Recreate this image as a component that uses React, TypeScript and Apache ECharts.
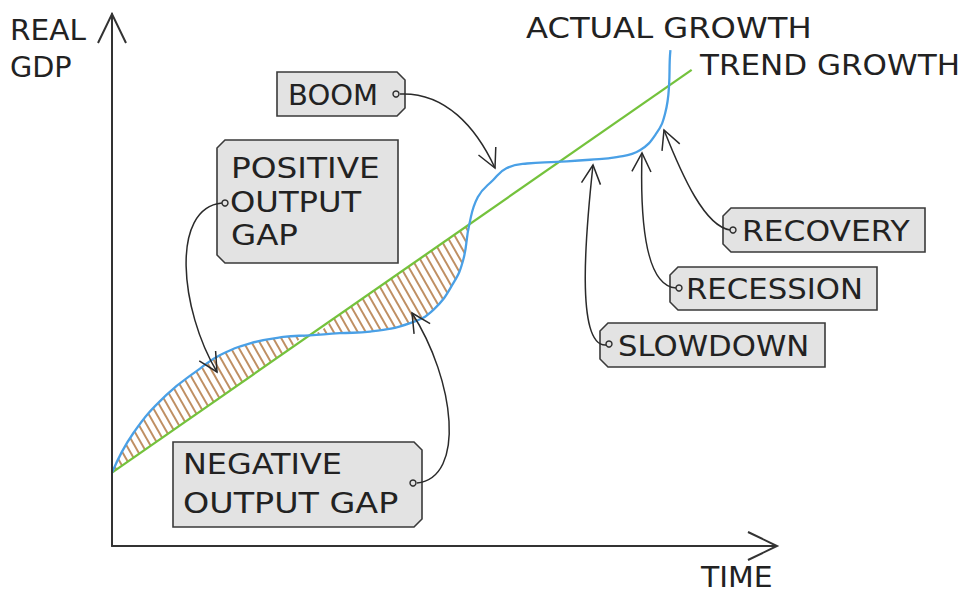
import React, { useEffect, useRef } from 'react';
import * as echarts from 'echarts';

// ---- data (axis units: time 0..100, real GDP 0..100) ----
const ACTUAL_X = [0, 3.2, 8.2, 13.3, 16.3, 20.8, 25.8, 29.8, 34.3, 38.9, 44.9, 48.4, 51.4, 52.9, 53.8, 55.1, 57.4, 59.4, 62.5, 67.0, 72.0, 76.0, 79.5, 82.0, 83.3, 83.9, 84.0, 84.1];
const ACTUAL_Y = [13.8, 21.2, 28.4, 33.4, 35.9, 38.1, 39.3, 39.6, 40.0, 40.3, 41.9, 44.4, 49.4, 53.8, 60.4, 65.6, 68.8, 71.0, 71.9, 72.2, 72.6, 73.1, 74.4, 77.6, 81.3, 86.7, 91.4, 93.2];
const TREND_X = [0, 87.3];
const TREND_Y = [13.8, 89.5];
const GAP_END_X = 53.8; // hatched output gaps end at the second crossing

const TEXT_LABELS = ['REAL', 'GDP', 'ACTUAL GROWTH', 'TREND GROWTH', 'TIME'];
const BOX_LABELS = ['BOOM', 'POSITIVE OUTPUT GAP', 'NEGATIVE OUTPUT GAP', 'RECOVERY', 'RECESSION', 'SLOWDOWN'];

// ---- styles / layout ----
const FONT = 'DejaVu Sans';
const FS = 29;
const INK = '#222';
const BOX_FILL = '#e3e3e3';
const BOX_STROKE = '#3a3a3a';

const plainTexts = [
  { t: TEXT_LABELS[0], x: 10, y: 30, s: 1.02 },
  { t: TEXT_LABELS[1], x: 10, y: 67, s: 0.99 },
  { t: TEXT_LABELS[2], x: 526, y: 28, s: 1.11 },
  { t: TEXT_LABELS[3], x: 700, y: 64.5, s: 1.07 },
  { t: TEXT_LABELS[4], x: 701, y: 577.5, s: 1.03 },
];

const boxes = [
  { x: 277, y: 72, w: 128, h: 44, side: 'right', dot: [396, 94], lines: [{ t: BOX_LABELS[0], x: 288, y: 94.5, s: 1.0 }] },
  { x: 217, y: 140, w: 181, h: 123, side: 'left', dot: [225, 203], lines: [
    { t: 'POSITIVE', x: 231, y: 167.5, s: 1.13 },
    { t: 'OUTPUT', x: 230, y: 202.5, s: 1.11 },
    { t: 'GAP', x: 231, y: 234.5, s: 1.12 },
  ] },
  { x: 173, y: 442, w: 249, h: 85, side: 'right', dot: [413, 483], lines: [
    { t: 'NEGATIVE', x: 183, y: 464.5, s: 1.1 },
    { t: 'OUTPUT GAP', x: 183, y: 502.5, s: 1.15 },
  ] },
  { x: 723, y: 208, w: 202, h: 44, side: 'left', dot: [733, 230], lines: [{ t: BOX_LABELS[3], x: 742, y: 230.5, s: 1.08 }] },
  { x: 670, y: 267, w: 207, h: 43, side: 'left', dot: [679, 288], lines: [{ t: BOX_LABELS[4], x: 686, y: 289, s: 1.06 }] },
  { x: 600, y: 323, w: 225, h: 44, side: 'left', dot: [609, 344], lines: [{ t: BOX_LABELS[5], x: 618, y: 345.5, s: 1.06 }] },
];

const arrows = [
  { p0: [400, 94], c1: [445, 92], c2: [476, 127], p3: [495, 168] },
  { p0: [222, 203], c1: [170, 208], c2: [180, 310], p3: [217, 372] },
  { p0: [417, 483], c1: [466, 478], c2: [455, 380], p3: [412, 313] },
  { p0: [606, 345], c1: [575, 347], c2: [586, 230], p3: [593, 165] },
  { p0: [676, 288], c1: [645, 286], c2: [640, 220], p3: [642, 153] },
  { p0: [730, 230], c1: [705, 226], c2: [683, 178], p3: [664, 130] },
];

function trendAt(x: number) {
  return TREND_Y[0] + ((x - TREND_X[0]) * (TREND_Y[1] - TREND_Y[0])) / (TREND_X[1] - TREND_X[0]);
}

function arrowHead(p3: number[], c2: number[], len = 21, ang = (27 * Math.PI) / 180) {
  const dx = p3[0] - c2[0];
  const dy = p3[1] - c2[1];
  const L = Math.hypot(dx, dy);
  const bx = -dx / L;
  const by = -dy / L;
  const rot = (a: number) => [bx * Math.cos(a) - by * Math.sin(a), bx * Math.sin(a) + by * Math.cos(a)];
  const w1 = rot(ang);
  const w2 = rot(-ang);
  return [
    [p3[0] + w1[0] * len, p3[1] + w1[1] * len],
    [p3[0], p3[1]],
    [p3[0] + w2[0] * len, p3[1] + w2[1] * len],
  ];
}

function textEl(t: string, x: number, y: number, s: number) {
  return {
    type: 'text',
    x,
    y,
    scaleX: s,
    z: 20,
    silent: true,
    style: {
      text: t,
      fill: INK,
      fontFamily: FONT,
      fontSize: FS,
      fontWeight: 'normal',
      align: 'left',
      verticalAlign: 'middle',
      textAlign: 'left',
      textVerticalAlign: 'middle',
    },
  };
}

function boxPoints(b: any) {
  const c = 8;
  const { x, y, w, h } = b;
  if (b.side === 'right') {
    return [[x, y], [x + w - c, y], [x + w, y + c], [x + w, y + h - c], [x + w - c, y + h], [x, y + h]];
  }
  return [[x + c, y], [x + w, y], [x + w, y + h], [x + c, y + h], [x, y + h - c], [x, y + c]];
}

export default function App() {
  const ref = useRef<HTMLDivElement>(null);

  useEffect(() => {
    if (!ref.current) return;
    const chart = echarts.init(ref.current, undefined, { renderer: 'svg' });

    // hatch pattern tile
    const cv = document.createElement('canvas');
    cv.width = 8;
    cv.height = 14;
    const ctx = cv.getContext('2d')!;
    ctx.strokeStyle = '#bf8f63';
    ctx.lineWidth = 1.9;
    for (const off of [-16, -8, 0, 8, 16]) {
      ctx.beginPath();
      ctx.moveTo(off - 4, -7);
      ctx.lineTo(off + 12, 21);
      ctx.stroke();
    }

    const actual = ACTUAL_X.map((x, i) => [x, ACTUAL_Y[i]]);
    const trend = TREND_X.map((x, i) => [x, TREND_Y[i]]);
    const bandUpper: number[][] = [];
    const bandLower: number[][] = [];
    let maskExtended = false;
    ACTUAL_X.forEach((x, i) => {
      const a = ACTUAL_Y[i];
      const t = trendAt(x);
      if (x <= GAP_END_X) {
        bandUpper.push([x, Math.max(a, t)]);
        bandLower.push([x, Math.min(a, t)]);
      } else if (!maskExtended) {
        // white mask runs one point further so the hatch's closing edge is hidden
        bandLower.push([x, Math.min(a, t)]);
        maskExtended = true;
      }
    });

    const graphic: any[] = [];
    // axis arrowheads
    graphic.push({ type: 'polyline', z: 20, silent: true, shape: { points: [[98, 43], [112, 14], [126, 43]] }, style: { stroke: '#333', lineWidth: 2, fill: 'none' } });
    graphic.push({ type: 'polyline', z: 20, silent: true, shape: { points: [[748, 532], [777, 546], [748, 560]] }, style: { stroke: '#333', lineWidth: 2, fill: 'none' } });

    plainTexts.forEach((p) => graphic.push(textEl(p.t, p.x, p.y, p.s)));

    boxes.forEach((b) => {
      graphic.push({ type: 'polygon', z: 15, silent: true, shape: { points: boxPoints(b) }, style: { fill: BOX_FILL, stroke: BOX_STROKE, lineWidth: 1.6 } });
      b.lines.forEach((l) => graphic.push(textEl(l.t, l.x, l.y, l.s)));
    });

    arrows.forEach((a) => {
      graphic.push({
        type: 'bezierCurve', z: 18, silent: true,
        shape: { x1: a.p0[0], y1: a.p0[1], cpx1: a.c1[0], cpy1: a.c1[1], cpx2: a.c2[0], cpy2: a.c2[1], x2: a.p3[0], y2: a.p3[1] },
        style: { stroke: '#2a2a2a', lineWidth: 1.5, fill: 'none' },
      });
      graphic.push({ type: 'polyline', z: 18, silent: true, shape: { points: arrowHead(a.p3, a.c2) }, style: { stroke: '#2a2a2a', lineWidth: 1.5, fill: 'none' } });
    });

    boxes.forEach((b) => {
      graphic.push({ type: 'circle', z: 19, silent: true, shape: { cx: b.dot[0], cy: b.dot[1], r: 3 }, style: { fill: BOX_FILL, stroke: '#2a2a2a', lineWidth: 1.4 } });
    });

    const axisCommon = {
      type: 'value',
      min: 0,
      max: 100,
      z: 10,
      axisLine: { show: true, onZero: false, lineStyle: { color: '#333', width: 2 } },
      axisTick: { show: false },
      axisLabel: { show: false },
      splitLine: { show: false },
    };

    chart.setOption({
      animation: false,
      grid: { left: 112, right: 192, top: 14, bottom: 47, containLabel: false },
      xAxis: { ...axisCommon },
      yAxis: { ...axisCommon },
      series: [
        { type: 'line', name: 'output gap', data: bandUpper, smooth: 0.45, symbol: 'none', showSymbol: false, lineStyle: { opacity: 0 }, areaStyle: { color: { image: cv, repeat: 'repeat' }, opacity: 1, origin: 'start' }, silent: true, z: 1 },
        { type: 'line', name: 'gap mask', data: bandLower, smooth: 0.45, symbol: 'none', showSymbol: false, lineStyle: { opacity: 0 }, areaStyle: { color: '#ffffff', opacity: 1, origin: 'start' }, silent: true, z: 2 },
        { type: 'line', name: 'Trend growth', data: trend, symbol: 'none', showSymbol: false, lineStyle: { color: '#74c23c', width: 2.3 }, silent: true, z: 3 },
        { type: 'line', name: 'Actual growth', data: actual, smooth: 0.45, symbol: 'none', showSymbol: false, lineStyle: { color: '#4aa0e6', width: 2.3 }, silent: true, z: 4 },
      ],
      graphic,
    });

    return () => chart.dispose();
  }, []);

  return <div ref={ref} style={{ position: 'fixed', left: 0, top: 0, width: 968, height: 593, background: '#fff' }} />;
}
